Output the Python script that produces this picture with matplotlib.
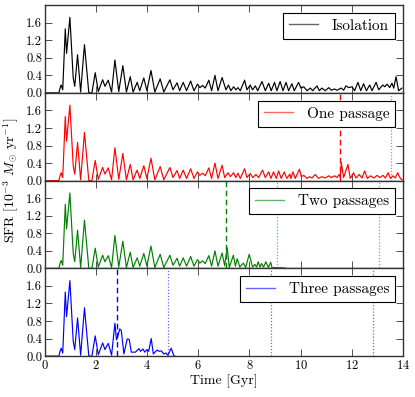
import matplotlib
matplotlib.use("Agg")
import matplotlib.pyplot as plt
from matplotlib.lines import Line2D

plt.rcParams['font.family'] = 'cmr10'
plt.rcParams['mathtext.fontset'] = 'cm'
plt.rcParams['axes.unicode_minus'] = False
plt.rcParams['axes.formatter.use_mathtext'] = True

# Shared early star-formation history (Gyr, 1e-3 Msun/yr)
base_t = [0.0, 0.55, 0.60, 0.64, 0.70, 0.80, 0.85, 0.98, 1.11, 1.17, 1.28, 1.40, 1.55, 1.72,
          1.84, 1.97, 2.09, 2.26, 2.35, 2.48, 2.61, 2.74, 2.89, 3.05, 3.19, 3.34, 3.45, 3.61,
          3.71, 3.87, 3.99, 4.15, 4.30, 4.51, 4.65, 4.89, 5.01, 5.17, 5.27, 5.41, 5.54, 5.70,
          5.83, 5.97, 6.06, 6.17, 6.27, 6.41, 6.52, 6.65, 6.77, 6.93]
base_v = [0.0, 0.0, 0.12, 0.18, 0.07, 1.46, 0.90, 1.72, 0.34, 0.15, 0.87, 0.02, 1.10, 0.0,
          0.0, 0.46, 0.03, 0.30, 0.15, 0.29, 0.02, 0.75, 0.03, 0.62, 0.02, 0.37, 0.02, 0.24,
          0.05, 0.34, 0.05, 0.51, 0.02, 0.32, 0.02, 0.30, 0.07, 0.23, 0.05, 0.24, 0.05, 0.27,
          0.05, 0.20, 0.12, 0.17, 0.11, 0.29, 0.05, 0.40, 0.05, 0.35]

iso_t = [7.08, 7.18, 7.27, 7.38, 7.47, 7.55, 7.64, 7.81, 7.90, 8.03, 8.12, 8.23, 8.32, 8.49,
         8.62, 8.75, 8.85, 8.98, 9.07, 9.20, 9.31, 9.43, 9.53, 9.66, 9.75, 9.92, 10.01, 10.12,
         10.25, 10.38, 10.47, 10.64, 10.73, 10.83, 10.96, 11.10, 11.20, 11.32, 11.42, 11.59,
         11.68, 11.77, 11.88, 12.01, 12.11, 12.24, 12.35, 12.46, 12.57, 12.70, 12.79, 12.95,
         13.05, 13.21, 13.29, 13.38, 13.48, 13.57, 13.64, 13.73, 13.83, 13.96]
iso_v = [0.07, 0.18, 0.05, 0.14, 0.07, 0.12, 0.05, 0.29, 0.07, 0.18, 0.07, 0.16, 0.05, 0.26,
         0.05, 0.22, 0.05, 0.24, 0.05, 0.26, 0.05, 0.24, 0.05, 0.21, 0.05, 0.24, 0.11, 0.14,
         0.05, 0.11, 0.05, 0.16, 0.05, 0.11, 0.05, 0.12, 0.06, 0.09, 0.06, 0.11,
         0.06, 0.16, 0.12, 0.14, 0.05, 0.24, 0.05, 0.21, 0.05, 0.18, 0.05, 0.24,
         0.07, 0.18, 0.14, 0.20, 0.12, 0.22, 0.11, 0.37, 0.05, 0.11]

one_t = [7.03, 7.16, 7.25, 7.38, 7.47, 7.55, 7.64, 7.81, 7.90, 8.03, 8.13, 8.25, 8.36, 8.51,
         8.62, 8.75, 8.84, 8.94, 9.05, 9.14, 9.24, 9.36, 9.46, 9.58, 9.62, 9.70, 9.79, 9.95,
         10.03, 10.12, 10.25, 10.34, 10.44, 10.57, 10.70, 10.83, 10.96, 11.10, 11.20, 11.33,
         11.42, 11.51, 11.55, 11.59, 11.68, 11.85, 11.94, 12.07, 12.16, 12.29, 12.40, 12.50,
         12.61, 12.72, 12.86, 12.99, 13.09, 13.22, 13.31, 13.42, 13.51, 13.61, 13.70, 13.79,
         13.90, 13.96]
one_v = [0.07, 0.18, 0.09, 0.18, 0.07, 0.17, 0.05, 0.27, 0.07, 0.16, 0.07, 0.14, 0.07, 0.24,
         0.07, 0.20, 0.05, 0.20, 0.05, 0.22, 0.05, 0.20, 0.05, 0.15, 0.05, 0.20, 0.05, 0.26,
         0.09, 0.12, 0.05, 0.09, 0.06, 0.14, 0.05, 0.09, 0.06, 0.11, 0.07, 0.11,
         0.07, 0.14, 0.07, 0.41, 0.07, 0.37, 0.05, 0.18, 0.06, 0.14, 0.06, 0.22,
         0.05, 0.11, 0.06, 0.12, 0.07, 0.12, 0.06, 0.18, 0.05, 0.11, 0.06, 0.18,
         0.05, 0.02]

two_t = [7.03, 7.13, 7.21, 7.37, 7.45, 7.52, 7.62, 7.76, 7.85, 7.99, 8.12, 8.21, 8.28, 8.34,
         8.41, 8.47, 8.55, 8.64, 8.74, 8.83, 8.89, 8.95, 9.39]
two_v = [0.06, 0.47, 0.02, 0.30, 0.05, 0.22, 0.03, 0.12, 0.02, 0.32, 0.03, 0.09, 0.03, 0.15,
         0.03, 0.11, 0.03, 0.15, 0.02, 0.14, 0.0, 0.02, 0.01]

three_t = [2.80, 2.85, 2.93, 2.99, 3.09, 3.22, 3.30, 3.38, 3.54, 3.68, 3.74, 3.84, 3.91, 3.99,
           4.06, 4.16, 4.24, 4.39, 4.46, 4.55, 4.65, 4.73, 4.81, 4.94, 5.05, 5.08]
three_v = [0.37, 0.45, 0.62, 0.58, 0.05, 0.39, 0.38, 0.09, 0.09, 0.17, 0.11, 0.16, 0.09, 0.15,
           0.11, 0.40, 0.05, 0.14, 0.11, 0.12, 0.05, 0.07, 0.02, 0.18, 0.0, 0.0]

labels = ["Isolation", "One passage", "Two passages", "Three passages"]
colors = ["k", "r", "g", "b"]
dashed_x = [None, 11.55, 7.08, 2.83]
dotted_x = [[], [13.55], [9.07, 13.07], [4.82, 8.83, 12.83]]

cut = base_t.index(2.74) + 1
series = [
    (base_t + iso_t, base_v + iso_v),
    (base_t + one_t, base_v + one_v),
    (base_t + two_t, base_v + two_v),
    (base_t[:cut] + three_t, base_v[:cut] + three_v),
]

fig = plt.figure(figsize=(4.15, 3.97), dpi=100)
left, right, top, bottom = 0.108, 0.971, 0.987, 0.103
h = (top - bottom) / 4
axes = []
for i in range(4):
    ax = fig.add_axes([left, top - (i + 1) * h, right - left, h])
    axes.append(ax)
    t, v = series[i]
    ax.plot(t, v, color=colors[i], lw=0.85)
    if dashed_x[i] is not None:
        ax.axvline(dashed_x[i], color=colors[i], ls=(0, (4, 2.5)), lw=1.0)
    for xd in dotted_x[i]:
        ax.axvline(xd, color=colors[i], ls=(0, (1, 1.5)), lw=0.9, alpha=0.6)
    ax.set_xlim(0, 14)
    ax.set_ylim(0, 2.0)
    ax.set_yticks([0.0, 0.4, 0.8, 1.2, 1.6])
    ax.set_yticklabels(["0.0", "0.4", "0.8", "1.2", "1.6"])
    ax.set_xticks([0, 2, 4, 6, 8, 10, 12, 14])
    ax.tick_params(direction='in', top=True, right=True, length=5, width=0.6,
                   labelsize=9, pad=2, color='#333333')
    for s in ax.spines.values():
        s.set_linewidth(1.0)
        s.set_color('#333333')
    if i < 3:
        ax.tick_params(labelbottom=False)
    handle = Line2D([], [], color=colors[i], lw=1.0, alpha=0.6)
    leg = ax.legend([handle], [labels[i]], loc='upper right', fontsize=11,
                    fancybox=False, framealpha=1, edgecolor='k',
                    borderaxespad=0.5, handlelength=1.9, handletextpad=0.9,
                    borderpad=0.4)
    leg.get_frame().set_linewidth(0.8)
    leg.set_zorder(5)

axes[-1].set_xlabel("Time [Gyr]", fontsize=10, labelpad=2)
fig.text(0.027, (top + bottom) / 2, r"SFR [10$^{-3}$ $M_{\odot}$ yr$^{-1}$]",
         rotation=90, va='center', ha='center', fontsize=10)

fig.savefig("out.png", dpi=100)
